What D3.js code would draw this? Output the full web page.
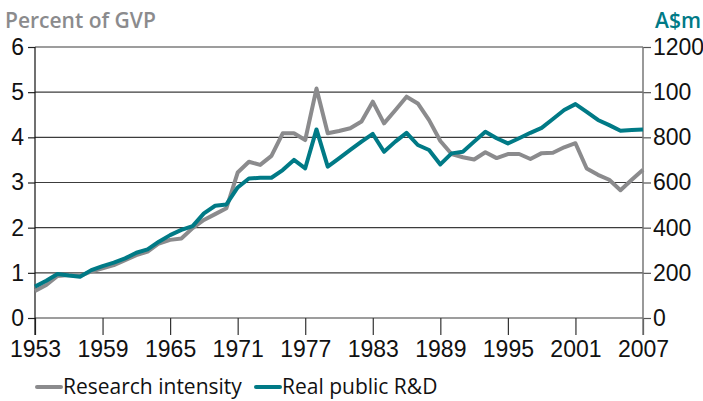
<!DOCTYPE html>
<html>
<head>
<meta charset="utf-8">
<script src="https://cdn.jsdelivr.net/npm/d3@7"></script>
<style>
  body { margin: 0; background: #fff; }
  svg { display: block; font-family: "Open Sans", "Lato", sans-serif; }
</style>
</head>
<body>
<script>
var years = d3.range(1953, 2008);
// research intensity, percent of GVP (left axis)
var intensity = [0.60, 0.73, 0.93, 0.95, 0.93, 1.03, 1.10, 1.17, 1.28, 1.39,
  1.47, 1.65, 1.73, 1.76, 1.99, 2.17, 2.30, 2.43, 3.22, 3.46,
  3.39, 3.59, 4.09, 4.09, 3.94, 5.08, 4.09, 4.14, 4.20, 4.35,
  4.79, 4.31, 4.60, 4.90, 4.75, 4.38, 3.92, 3.63, 3.56, 3.51,
  3.67, 3.54, 3.63, 3.63, 3.52, 3.65, 3.66, 3.78, 3.87, 3.31,
  3.17, 3.06, 2.83, 3.06, 3.28];
// real public R&D, A$m (right axis)
var publicRD = [139, 165, 195, 188, 183, 212, 230, 245, 264, 289,
  304, 338, 367, 390, 407, 463, 497, 503, 578, 618,
  621, 621, 655, 700, 663, 835, 670, 707, 744, 781,
  815, 736, 781, 820, 766, 744, 680, 729, 736, 781,
  825, 796, 773, 796, 820, 842, 881, 921, 947, 913,
  877, 854, 829, 832, 835];
var xTicks = [1953, 1959, 1965, 1971, 1977, 1983, 1989, 1995, 2001, 2007];
var leftTicks = [0, 1, 2, 3, 4, 5, 6];
var rightTicks = [0, 200, 400, 600, 800, 1000, 1200];
var rightLabels = ["0", "200", "400", "600", "800", "100", "1200"];
var seriesNames = ["Research intensity", "Real public R&D"];

var grey = "#8b8b8d", teal = "#007a86";
var W = 703, H = 401;
var pLeft = 35, pRight = 643, pTop = 47, pBottom = 318;

var svg = d3.select("body").append("svg")
  .attr("width", W)
  .attr("height", H);

var x = d3.scaleLinear().domain([1953, 2007]).range([pLeft, pRight]);
var yL = d3.scaleLinear().domain([0, 6]).range([pBottom, pTop]);
var yR = d3.scaleLinear().domain([0, 1200]).range([pBottom, pTop]);

// gridlines
svg.append("g").selectAll("line")
  .data(leftTicks)
  .enter().append("line")
  .attr("x1", pLeft).attr("x2", pRight)
  .attr("y1", function(d) { return yL(d); })
  .attr("y2", function(d) { return yL(d); })
  .attr("stroke", "#3c3c3c")
  .attr("stroke-width", 1.2);

// x axis
var xAxis = svg.append("g")
  .attr("transform", "translate(0," + pBottom + ")")
  .call(d3.axisBottom(x).tickValues(xTicks).tickFormat(d3.format("d")).tickSize(17).tickPadding(6));
xAxis.select(".domain").remove();
xAxis.selectAll("line").attr("stroke", "#333").attr("stroke-width", 1.2);
xAxis.selectAll("text").attr("font-size", 23).attr("fill", "#111");

// left axis
var lAxis = svg.append("g")
  .attr("transform", "translate(" + pLeft + ",0)")
  .call(d3.axisLeft(yL).tickValues(leftTicks).tickFormat(d3.format("d")).tickSize(7).tickPadding(4));
lAxis.select(".domain").remove();
lAxis.selectAll("line").attr("stroke", "#222").attr("stroke-width", 1.2);
lAxis.selectAll("text").attr("font-size", 23).attr("fill", "#111");
svg.append("line")
  .attr("x1", pLeft).attr("x2", pLeft)
  .attr("y1", pTop).attr("y2", pBottom + 17)
  .attr("stroke", "#111").attr("stroke-width", 1.2);

// right axis
var rAxis = svg.append("g")
  .attr("transform", "translate(" + pRight + ",0)")
  .call(d3.axisRight(yR).tickValues(rightTicks).tickSize(8).tickPadding(2)
    .tickFormat(function(d, i) { return rightLabels[i]; }));
rAxis.select(".domain").remove();
rAxis.selectAll("line").attr("stroke", "#555").attr("stroke-width", 1.2);
rAxis.selectAll("text").attr("font-size", 23).attr("fill", "#111");
svg.append("line")
  .attr("x1", pRight).attr("x2", pRight)
  .attr("y1", pTop).attr("y2", pBottom + 17)
  .attr("stroke", "#777").attr("stroke-width", 1.5);

// axis titles
svg.append("text")
  .attr("x", 5).attr("y", 28)
  .attr("font-size", 21).attr("font-weight", 600)
  .attr("fill", grey)
  .text("Percent of GVP");
svg.append("text")
  .attr("x", 701).attr("y", 28)
  .attr("text-anchor", "end")
  .attr("font-size", 21).attr("font-weight", 600)
  .attr("fill", teal)
  .text("A$m");

// lines
var lineL = d3.line()
  .x(function(d, i) { return x(years[i]); })
  .y(function(d) { return yL(d); });
var lineR = d3.line()
  .x(function(d, i) { return x(years[i]); })
  .y(function(d) { return yR(d); });

svg.append("path")
  .datum(intensity)
  .attr("d", lineL)
  .attr("fill", "none")
  .attr("stroke", grey)
  .attr("stroke-width", 4)
  .attr("stroke-linejoin", "round");
svg.append("path")
  .datum(publicRD)
  .attr("d", lineR)
  .attr("fill", "none")
  .attr("stroke", teal)
  .attr("stroke-width", 4)
  .attr("stroke-linejoin", "round");

// legend
var legendX = [37, 256];
var legend = svg.append("g").selectAll("g")
  .data(seriesNames)
  .enter().append("g")
  .attr("transform", function(d, i) { return "translate(" + legendX[i] + ",387)"; });
legend.append("line")
  .attr("x1", 0).attr("x2", 24)
  .attr("stroke", function(d, i) { return i ? teal : grey; })
  .attr("stroke-width", 4)
  .attr("stroke-linecap", "round");
legend.append("text")
  .attr("x", 26).attr("y", 7)
  .attr("font-size", 21)
  .attr("fill", "#111")
  .text(function(d) { return d; });
</script>
</body>
</html>
